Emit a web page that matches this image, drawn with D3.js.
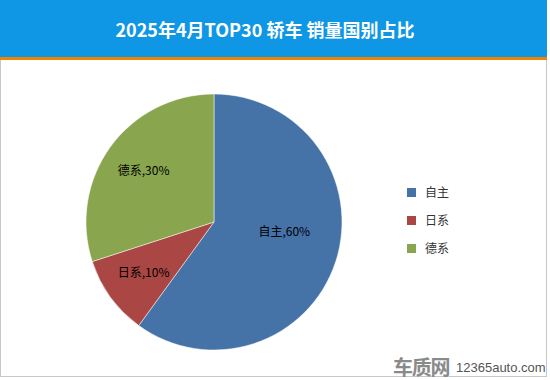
<!DOCTYPE html>
<html><head><meta charset="utf-8">
<script src="https://cdn.jsdelivr.net/npm/d3@7"></script>
<style>body{margin:0;background:#fff}svg{display:block}</style>
</head><body>
<script>
const title = "2025年4月TOP30 轿车 销量国别占比";
const categories = ["自主", "日系", "德系"];
const values = [60, 10, 30];
const colors = ["#4572A7", "#AA4643", "#89A54E"];

const W = 550, H = 380;
const svg = d3.select("body").append("svg").attr("width", W).attr("height", H);
const font = "'Microsoft YaHei','Noto Sans CJK SC',sans-serif";

// frame
svg.append("rect").attr("x", 0.5).attr("y", 0.5).attr("width", W - 4).attr("height", H - 4)
  .attr("fill", "#fff").attr("stroke", "#c8c8c8");
// header
svg.append("rect").attr("x", 0).attr("y", 0).attr("width", W - 3).attr("height", 57).attr("fill", "#0f97e6");
svg.append("rect").attr("x", 0).attr("y", 57).attr("width", W - 3).attr("height", 3).attr("fill", "#f08400");
svg.append("text").attr("x", 265).attr("y", 37).attr("text-anchor", "middle")
  .attr("fill", "#fff").attr("font-family", font).attr("font-weight", "bold").attr("font-size", 18)
  .text(title);

const cx = 214, cy = 222, r = 128;
const pie = d3.pie().sort(null).value(d => d.v);
const data = pie(categories.map((c, i) => ({c, v: values[i], col: colors[i]})));
const arc = d3.arc().innerRadius(0).outerRadius(r);
const g = svg.append("g").attr("transform", `translate(${cx},${cy})`);
g.selectAll("path").data(data).join("path").attr("d", arc).attr("fill", d => d.data.col)
  .attr("stroke", "#fff").attr("stroke-width", 0.5);
g.selectAll("text").data(data).join("text")
  .attr("transform", (d, i) => {
    // largest slice: label sits nearer to the start of the slice
    const frac = i === 0 ? 0.455 : 0.5;
    const rr = i === 0 ? r * 0.555 : r * 0.68;
    const a = d.startAngle + (d.endAngle - d.startAngle) * frac;
    const x = Math.sin(a) * rr, y = -Math.cos(a) * rr;
    return `translate(${x},${y})`;
  })
  .attr("text-anchor", "middle").attr("dy", "0.35em")
  .attr("font-family", font).attr("font-size", 12).attr("fill", "#000")
  .text(d => `${d.data.c},${d.data.v}%`);

// legend
const lg = svg.append("g");
categories.forEach((c, i) => {
  const y = 193 + i * 28;
  lg.append("rect").attr("x", 407).attr("y", y - 5).attr("width", 9).attr("height", 9).attr("fill", colors[i]);
  lg.append("text").attr("x", 425).attr("y", y).attr("dy", "0.35em").attr("font-family", font)
    .attr("font-size", 12).attr("fill", "#333").text(c);
});

// watermark
svg.append("text").attr("x", 393).attr("y", 375).attr("font-family", font).attr("font-weight", "bold")
  .attr("font-size", 20).attr("fill", "#8a8a8a").attr("letter-spacing", -1.3).text("车质网");
svg.append("text").attr("x", 456).attr("y", 372).attr("font-family", "Arial,'Liberation Sans',sans-serif")
  .attr("font-size", 13).attr("fill", "#555").text("12365auto.com");
</script>
</body></html>
